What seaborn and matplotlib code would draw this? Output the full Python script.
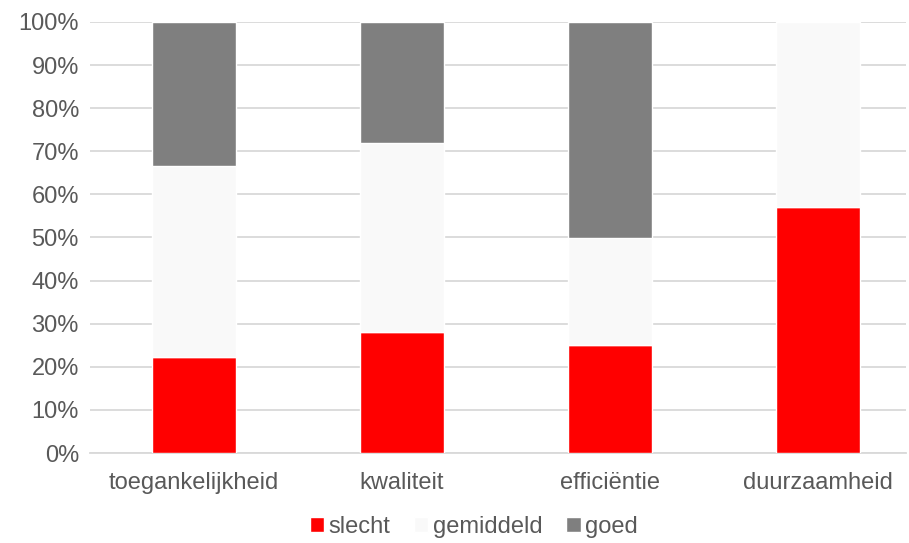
import numpy as np
import pandas as pd
import matplotlib
matplotlib.use("Agg")
import matplotlib.pyplot as plt
import seaborn as sns
from matplotlib.ticker import PercentFormatter

categories = ["toegankelijkheid", "kwaliteit", "efficiëntie", "duurzaamheid"]
slecht = [22.2, 28.1, 25.0, 57.1]
gemiddeld = [44.5, 43.8, 25.0, 42.9]
goed = [33.3, 28.1, 50.0, 0.0]
series_names = ["slecht", "gemiddeld", "goed"]
colors = ["#ff0000", "#f9f9f9", "#7f7f7f"]

sns.set_style("white")
plt.rcParams["font.family"] = ["Liberation Sans", "DejaVu Sans"]
text_color = "#595959"

df = pd.DataFrame({"categorie": categories, "slecht": slecht,
                   "gemiddeld": gemiddeld, "goed": goed})

fig = plt.figure(figsize=(9.09, 5.43), dpi=100)
ax = fig.add_axes([90 / 909, (543 - 453) / 543, (906 - 90) / 909, 431 / 543])

bottom = np.zeros(len(categories))
for name, col in zip(series_names, colors):
    sns.barplot(data=df, x="categorie", y=name, bottom=bottom, color=col,
                width=0.404, ax=ax, label=name, saturation=1, zorder=3)
    bottom = bottom + df[name].to_numpy()

ax.set_xlim(-0.5, 3.5 - 16 / 208)
ax.set_ylim(0, 100)
ax.set_yticks(np.arange(0, 101, 10))
ax.yaxis.set_major_formatter(PercentFormatter(decimals=0))
ax.grid(axis="y", color="#d9d9d9", linewidth=1.3, zorder=0)
ax.set_axisbelow(True)
ax.set_xlabel("")
ax.set_ylabel("")
for s in ["top", "right", "left"]:
    ax.spines[s].set_visible(False)
ax.spines["bottom"].set_color("#d9d9d9")
ax.spines["bottom"].set_linewidth(1.3)
ax.tick_params(axis="both", length=0, colors=text_color, labelsize=17)
ax.tick_params(axis="x", pad=14)
ax.tick_params(axis="y", pad=8)

handles, labels = ax.get_legend_handles_labels()
ax.get_legend().remove()
fig.legend(handles, labels, loc="center", bbox_to_anchor=(474 / 909, 1 - 527 / 543),
           ncol=3, frameon=False, fontsize=17, labelcolor=text_color,
           handlelength=0.6, handleheight=0.6, handletextpad=0.2,
           columnspacing=1.0)

fig.savefig("out.png", dpi=100)
